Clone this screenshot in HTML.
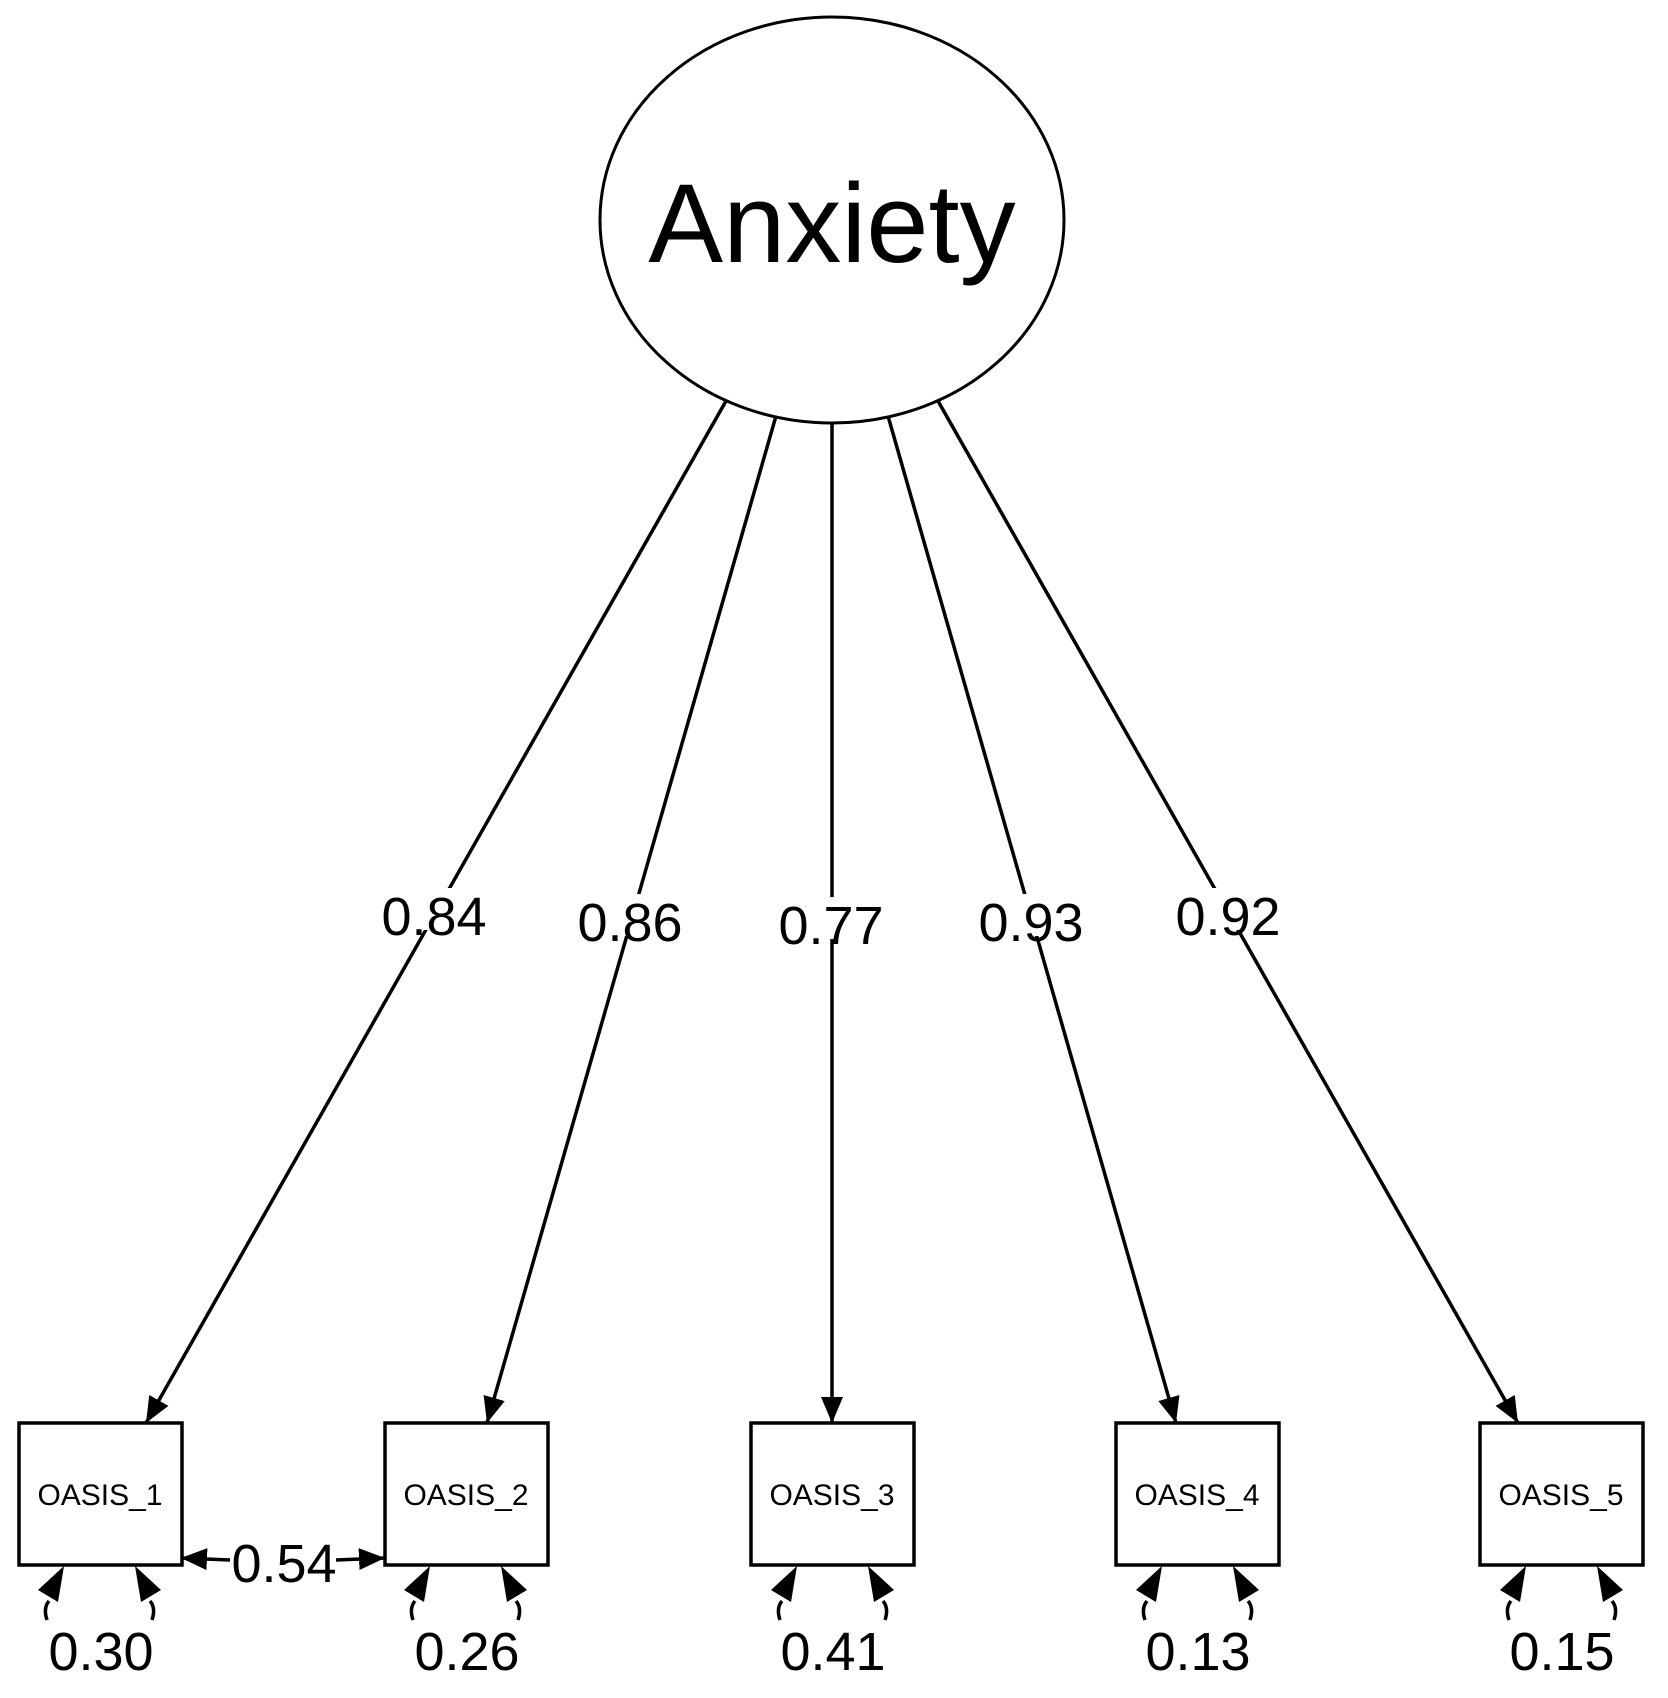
<!DOCTYPE html>
<html><head><meta charset="utf-8"><style>
html,body{margin:0;padding:0;background:#fff}
svg{display:block}
text{font-family:"Liberation Sans",Arial,sans-serif;fill:#000}
</style></head><body>
<svg width="1668" height="1698" viewBox="0 0 1668 1698" xmlns="http://www.w3.org/2000/svg">
<defs>
<marker id="ah" viewBox="0 0 26 22" refX="26" refY="11" markerWidth="26" markerHeight="22" markerUnits="userSpaceOnUse" orient="auto">
<path d="M0,0 L26,11 L0,22 Z" fill="#000"/>
</marker>
</defs>
<rect width="1668" height="1698" fill="#fff"/>
<ellipse cx="832" cy="220" rx="232" ry="203" fill="#fff" stroke="#000" stroke-width="3"/>
<text x="832" y="262" font-size="112" text-anchor="middle">Anxiety</text>

<g stroke="#000" stroke-width="3.5" fill="none">
<line x1="726" y1="401" x2="146" y2="1423" marker-end="url(#ah)"/>
<line x1="776" y1="416" x2="487" y2="1423" marker-end="url(#ah)"/>
<line x1="832" y1="423" x2="832" y2="1423" marker-end="url(#ah)"/>
<line x1="888" y1="416" x2="1176" y2="1423" marker-end="url(#ah)"/>
<line x1="938" y1="401" x2="1518" y2="1423" marker-end="url(#ah)"/>
<line x1="230" y1="1560" x2="181" y2="1558" marker-end="url(#ah)"/>
<line x1="336" y1="1560" x2="385" y2="1558" marker-end="url(#ah)"/>
</g>

<g fill="#fff" stroke="#000" stroke-width="3.5">
<rect x="19" y="1423" width="163" height="142"/>
<rect x="385" y="1423" width="163" height="142"/>
<rect x="751" y="1423" width="163" height="142"/>
<rect x="1116" y="1423" width="163" height="142"/>
<rect x="1480" y="1423" width="163" height="142"/>
</g>
<g font-size="30" text-anchor="middle">
<text x="100" y="1505">OASIS_1</text>
<text x="466" y="1505">OASIS_2</text>
<text x="832" y="1505">OASIS_3</text>
<text x="1197" y="1505">OASIS_4</text>
<text x="1561" y="1505">OASIS_5</text>
</g>

<g stroke="#000" stroke-width="3.5" fill="none">
<path d="M49,1601 Q43,1608 47,1620"/><path d="M150,1601 Q156,1608 152,1620"/>
<path d="M415,1601 Q409,1608 413,1620"/><path d="M516,1601 Q522,1608 518,1620"/>
<path d="M782,1601 Q776,1608 780,1620"/><path d="M883,1601 Q889,1608 885,1620"/>
<path d="M1147,1601 Q1141,1608 1145,1620"/><path d="M1248,1601 Q1254,1608 1250,1620"/>
<path d="M1511,1601 Q1505,1608 1509,1620"/><path d="M1612,1601 Q1618,1608 1614,1620"/>
</g>
<g fill="#000">
<path d="M64,1566 L58,1602 L38,1590 Z"/><path d="M135,1566 L161,1590 L141,1602 Z"/>
<path d="M430,1566 L424,1602 L404,1590 Z"/><path d="M501,1566 L527,1590 L507,1602 Z"/>
<path d="M797,1566 L791,1602 L771,1590 Z"/><path d="M868,1566 L894,1590 L874,1602 Z"/>
<path d="M1162,1566 L1156,1602 L1136,1590 Z"/><path d="M1233,1566 L1259,1590 L1239,1602 Z"/>
<path d="M1526,1566 L1520,1602 L1500,1590 Z"/><path d="M1597,1566 L1623,1590 L1603,1602 Z"/>
</g>

<g font-size="54" text-anchor="middle">
<rect x="382" y="888" width="104" height="42" fill="#fff"/>
<text x="434" y="935">0.84</text>
<rect x="578" y="894" width="104" height="42" fill="#fff"/>
<text x="630" y="941">0.86</text>
<rect x="779" y="897" width="104" height="42" fill="#fff"/>
<text x="831" y="944">0.77</text>
<rect x="979" y="894" width="104" height="42" fill="#fff"/>
<text x="1031" y="941">0.93</text>
<rect x="1176" y="888" width="104" height="42" fill="#fff"/>
<text x="1228" y="935">0.92</text>
<text x="284" y="1582">0.54</text>
<text x="101" y="1670">0.30</text>
<text x="467" y="1670">0.26</text>
<text x="833" y="1670">0.41</text>
<text x="1198" y="1670">0.13</text>
<text x="1562" y="1670">0.15</text>
</g>
</svg>
</body></html>
